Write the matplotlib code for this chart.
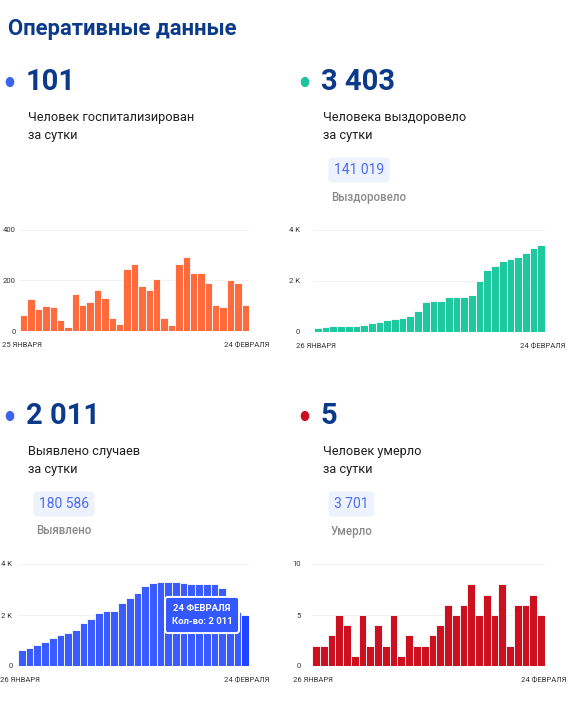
import matplotlib
matplotlib.use("Agg")
import matplotlib.pyplot as plt

plt.rcParams["font.family"] = ["Roboto", "DejaVu Sans"]

W, H = 584, 712

# --- data ---
hosp = [63, 127, 89, 98, 94, 42, 14, 146, 101, 115, 161, 131, 52, 29, 245,
        266, 177, 164, 207, 50, 22, 264, 292, 230, 231, 190, 102, 94, 202, 189, 101]
recovered = [169, 208, 234, 247, 247, 247, 273, 338, 377, 468, 494, 545, 610, 831, 1169,
             1234, 1208, 1377, 1390, 1390, 1455, 2013, 2442, 2597, 2779, 2870, 2948, 3104, 3286, 3403]
detected = [638, 717, 834, 951, 1094, 1225, 1290, 1420, 1681, 1850, 2072, 2150, 2150, 2476, 2658,
            2879, 3153, 3244, 3296, 3296, 3296, 3244, 3231, 3231, 3218, 3218, 3049, 2600, 2100, 2011]
deaths = [2, 2, 3, 5, 4, 1, 5, 2, 4, 2, 5, 1, 3, 2, 2,
          3, 4, 6, 5, 6, 8, 5, 7, 5, 8, 2, 6, 6, 7, 5]

NAVY = "#0b3a8a"
BLUE_TXT = "#4a6cf0"


def px(x, y):
    return x / W, 1 - y / H


fig = plt.figure(figsize=(W / 100, H / 100), dpi=100)
fig.patch.set_facecolor("white")

fig.text(*px(8, 29), "Оперативные данные", fontsize=15.8, fontweight="bold",
         color=NAVY, va="center", ha="left")


def header(x0, y0, dot_color, number, lines, badge=None, badge_label=None):
    fig.add_artist(plt.Circle(px(x0 - 18, y0), 3.6 / W, transform=fig.transFigure,
                              color=dot_color))
    fig.text(*px(x0 - 2, y0), number, fontsize=21, fontweight="bold", color=NAVY,
             va="center", ha="left")
    fig.text(*px(x0, y0 + 35), lines[0], fontsize=9.2, color="#1e1e1e", va="center")
    fig.text(*px(x0, y0 + 54), lines[1], fontsize=9.2, color="#1e1e1e", va="center")
    if badge:
        fig.text(*px(x0 + 11, y0 + 88), badge, fontsize=10, color=BLUE_TXT, va="center",
                 bbox=dict(boxstyle="round,pad=0.4,rounding_size=0.3", fc="#eef2fd", ec="none"))
        fig.text(*px(x0 + 8, y0 + 115), badge_label, fontsize=8.3, color="#8a8a8a",
                 fontweight="medium", va="center")


header(28, 82, "#3b63ee", "101", ["Человек госпитализирован", "за сутки"])
header(323, 82, "#1cc39c", "3 403", ["Человека выздоровело", "за сутки"], "141 019", "Выздоровело")
header(28, 416, "#3b63ee", "2 011", ["Выявлено случаев", "за сутки"], "180 586", "Выявлено")
header(323, 416, "#c8101e", "5", ["Человек умерло", "за сутки"], "3 701", "Умерло")


def chart(left, right, top, bottom, vals, color, ymax, ticks, ticklabels, d0, d1, pad=7):
    ax = fig.add_axes([left / W, 1 - bottom / H, (right - left) / W, (bottom - top) / H])
    x = list(range(len(vals)))
    bars = ax.bar(x, vals, width=1.0, color=color, edgecolor="white", linewidth=0.6)
    ax.set_xlim(-0.5, len(vals) - 0.5)
    ax.set_ylim(0, ymax)
    ax.set_yticks(ticks)
    ax.set_yticklabels(ticklabels)
    ax.set_xticks([])
    for t in ticks[1:]:
        ax.axhline(t, color="#f2f2f2", lw=0.8, zorder=0)
    ax.tick_params(axis="y", length=0, pad=pad, labelsize=5.5, labelcolor="#333333")
    for s in ax.spines.values():
        s.set_visible(False)
    ax.text(-0.08, -0.14, d0, transform=ax.transAxes, fontsize=5.5, color="#333333",
            ha="left", va="center")
    ax.text(1.09, -0.14, d1, transform=ax.transAxes, fontsize=5.5, color="#333333",
            ha="right", va="center")
    return ax, bars


ax1, _ = chart(20, 249, 230, 331, hosp, "#ff6b3d", 400, [0, 200, 400], ["0", "200", "400"],
               "25 ЯНВАРЯ", "24 ФЕВРАЛЯ", pad=3)
ax2, _ = chart(314, 545, 230, 332, recovered, "#1ec9a0", 4000, [0, 2000, 4000], ["0", "2 K", "4 K"],
               "26 ЯНВАРЯ", "24 ФЕВРАЛЯ", pad=10)
ax3, bars3 = chart(18, 249, 564, 666, detected, "#3a5cff", 4000, [0, 2000, 4000], ["0", "2 K", "4 K"],
                   "26 ЯНВАРЯ", "24 ФЕВРАЛЯ", pad=4)
ax4, _ = chart(312, 545, 564, 666, deaths, "#cc1020", 10, [0, 5, 10], ["0", "5", "10"],
               "26 ЯНВАРЯ", "24 ФЕВРАЛЯ", pad=8)

bars3[-1].set_facecolor("#1f43ff")

ax3.text(23.4, 2000, "24 ФЕВРАЛЯ\nКол-во: 2 011", fontsize=6.8, fontweight="bold",
         color="white", ha="center", va="center", linespacing=1.7, zorder=5,
         bbox=dict(boxstyle="round,pad=0.7,rounding_size=0.3", fc="#3358ff", ec="white", lw=1.4))

fig.savefig("out.png", dpi=100)
